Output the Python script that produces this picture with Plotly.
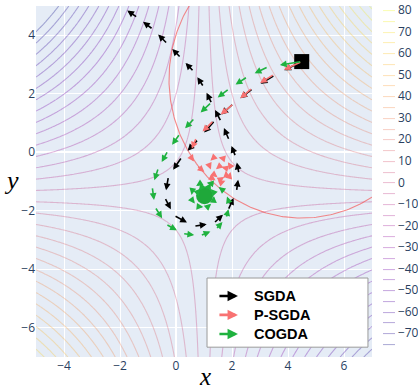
import numpy as np
import plotly.graph_objects as go

# ---- objective (contour background) ----
SADDLE_X, SADDLE_Y = 1.0, -1.5
COUPLING = 2.15
OFFSET = -2.5
LEVEL_START, LEVEL_END, LEVEL_STEP = -75, 80, 5
X_RANGE = [-5, 7]
Y_RANGE = [-7, 5]

# ---- constraint ball used by P-SGDA ----
BALL_CENTER = (4.5, 2.5)
BALL_RADIUS = 4.75

# ---- start point and equilibrium ----
START = (4.49, 3.10)
EQUILIBRIUM = (1.02, -1.49)

# ---- iterates ----
sgda_x = [4.49, 3.53, 2.75, 2.06, 1.39, 0.80, 0.21, -0.27, -0.40, -0.07, 0.64, 1.34, 1.86,
          2.16, 2.25, 2.13, 1.90, 1.61, 1.28, 0.99, 0.64, 0.18, -0.30, -0.82, -1.37, -1.94]
sgda_y = [3.10, 2.64, 2.18, 1.67, 1.09, 0.45, -0.16, -0.83, -1.55, -2.16, -2.53, -2.43, -1.98,
          -1.34, -0.73, -0.15, 0.41, 1.05, 1.66, 2.23, 2.75, 3.22, 3.70, 4.20, 4.60, 4.98]

psgda_x = [4.49, 3.51, 2.73, 2.06, 1.35, 0.73, 0.47, 0.74, 1.16, 1.55, 1.88, 1.99, 1.78,
           1.38, 1.15, 1.30, 1.58, 1.80, 1.77, 1.55, 1.36]
psgda_y = [3.10, 2.67, 2.20, 1.66, 1.09, 0.50, -0.08, -0.45, -0.80, -1.06, -0.93, -0.54, -0.23,
           -0.15, -0.36, -0.72, -0.93, -0.80, -0.54, -0.48, -0.63]

cogda_x = [4.49, 3.29, 2.55, 1.90, 1.27, 0.67, 0.14, -0.29, -0.63, -0.85, -0.75, -0.36, 0.24,
           0.87, 1.42, 1.79, 1.92, 1.77, 1.39, 0.94, 0.60, 0.53, 0.75, 1.10, 1.34, 1.36,
           1.17, 0.91, 0.77, 0.84, 1.01]
cogda_y = [3.10, 2.92, 2.58, 2.17, 1.71, 1.17, 0.63, 0.05, -0.54, -1.18, -1.87, -2.46, -2.78,
           -2.85, -2.64, -2.25, -1.78, -1.37, -1.09, -1.02, -1.23, -1.58, -1.85, -1.89, -1.69,
           -1.39, -1.19, -1.20, -1.38, -1.59, -1.61]

series_names = ["SGDA", "P-SGDA", "COGDA"]
series_colors = ["black", "#f87272", "#1fb23f"]
ARROW_FRACTION = 0.65

PLASMA = ['#0d0887', '#46039f', '#7201a8', '#9c179e', '#bd3786',
          '#d8576b', '#ed7953', '#fb9f3a', '#fdca26', '#f0f921']
LINE_ALPHA = 0.32


def rgba(hexcol, a):
    h = hexcol.lstrip('#')
    r, g, b = int(h[0:2], 16), int(h[2:4], 16), int(h[4:6], 16)
    return f"rgba({r},{g},{b},{a})"


colorscale = [[i / (len(PLASMA) - 1), rgba(c, LINE_ALPHA)] for i, c in enumerate(PLASMA)]

gx = np.linspace(X_RANGE[0], X_RANGE[1], 241)
gy = np.linspace(Y_RANGE[0], Y_RANGE[1], 241)
GX, GY = np.meshgrid(gx, gy)
Z = COUPLING * (GX - SADDLE_X) * (GY - SADDLE_Y) + OFFSET

fig = go.Figure()
fig.add_trace(go.Contour(
    x=gx, y=gy, z=Z,
    contours=dict(start=LEVEL_START, end=LEVEL_END, size=LEVEL_STEP, coloring='lines'),
    colorscale=colorscale, zmin=LEVEL_START, zmax=LEVEL_END,
    line=dict(width=1.1),
    colorbar=dict(thickness=12, thicknessmode='pixels', len=334, lenmode='pixels',
                  x=1.0327, xanchor='left', xpad=0, y=0.9886, yanchor='top', ypad=0,
                  outlinewidth=0, tick0=0, dtick=10, tickfont=dict(size=12)),
    hoverinfo='skip', showscale=True,
))

# constraint ball boundary
th = np.linspace(0, 2 * np.pi, 400)
fig.add_trace(go.Scatter(
    x=BALL_CENTER[0] + BALL_RADIUS * np.cos(th),
    y=BALL_CENTER[1] + BALL_RADIUS * np.sin(th),
    mode='lines', line=dict(color='rgba(245,90,90,0.7)', width=1.1),
    hoverinfo='skip', showlegend=False))

fig.add_trace(go.Scatter(x=[EQUILIBRIUM[0]], y=[EQUILIBRIUM[1]], mode='markers',
                         marker=dict(symbol='circle', size=17, color='#1fa83a'),
                         showlegend=False))
fig.add_trace(go.Scatter(x=[START[0]], y=[START[1]], mode='markers',
                         marker=dict(symbol='square', size=15, color='black'),
                         showlegend=False))

for xs, ys, col in zip([sgda_x, psgda_x, cogda_x], [sgda_y, psgda_y, cogda_y], series_colors):
    for i in range(len(xs) - 1):
        x0, y0 = xs[i], ys[i]
        x1 = x0 + ARROW_FRACTION * (xs[i + 1] - x0)
        y1 = y0 + ARROW_FRACTION * (ys[i + 1] - y0)
        fig.add_annotation(x=x1, y=y1, ax=x0, ay=y0, xref='x', yref='y', axref='x', ayref='y',
                           showarrow=True, arrowhead=2, arrowsize=0.85, arrowwidth=1.6,
                           arrowcolor=col, text='')

# manual legend with arrows
fig.add_shape(type='rect', xref='paper', yref='paper', x0=0.509, x1=0.988, y0=0.028, y1=0.225,
              line=dict(color='#9a9a9a', width=1), fillcolor='white', layer='above')
rows = [0.174, 0.120, 0.0655]
for name, col, ry in zip(series_names, series_colors, rows):
    fig.add_annotation(x=0.601, y=ry, xref='paper', yref='paper', ax=-20, ay=0,
                       showarrow=True, arrowhead=2, arrowsize=0.8, arrowwidth=2.6,
                       arrowcolor=col, text='')
    fig.add_annotation(x=0.643, y=ry, xref='paper', yref='paper', text=f"<b>{name}</b>",
                       showarrow=False, xanchor='left', yanchor='middle',
                       font=dict(family='Liberation Sans, Arial', size=14.5, color='black'))

# axis titles
fig.add_annotation(x=0.503, y=-0.0997, xref='paper', yref='paper', text='<i>x</i>', showarrow=False,
                   xanchor='center', yanchor='bottom',
                   font=dict(family='Liberation Serif', size=25, color='black'))
fig.add_annotation(x=-0.072, y=0.504, xref='paper', yref='paper', text='<i>y</i>', showarrow=False,
                   xanchor='center', yanchor='middle',
                   font=dict(family='Liberation Serif', size=26, color='black'))

fig.update_layout(
    width=418, height=392, template='plotly', showlegend=False,
    margin=dict(l=36, r=46, t=6, b=35, autoexpand=False),
    xaxis=dict(range=X_RANGE, dtick=2, tick0=0, showgrid=True, automargin=False),
    yaxis=dict(range=Y_RANGE, dtick=2, tick0=0, showgrid=True, automargin=False),
)

fig.write_html("out.html", config={'displayModeBar': False},
               post_script="document.body.style.margin='0';document.body.style.overflow='hidden';")
